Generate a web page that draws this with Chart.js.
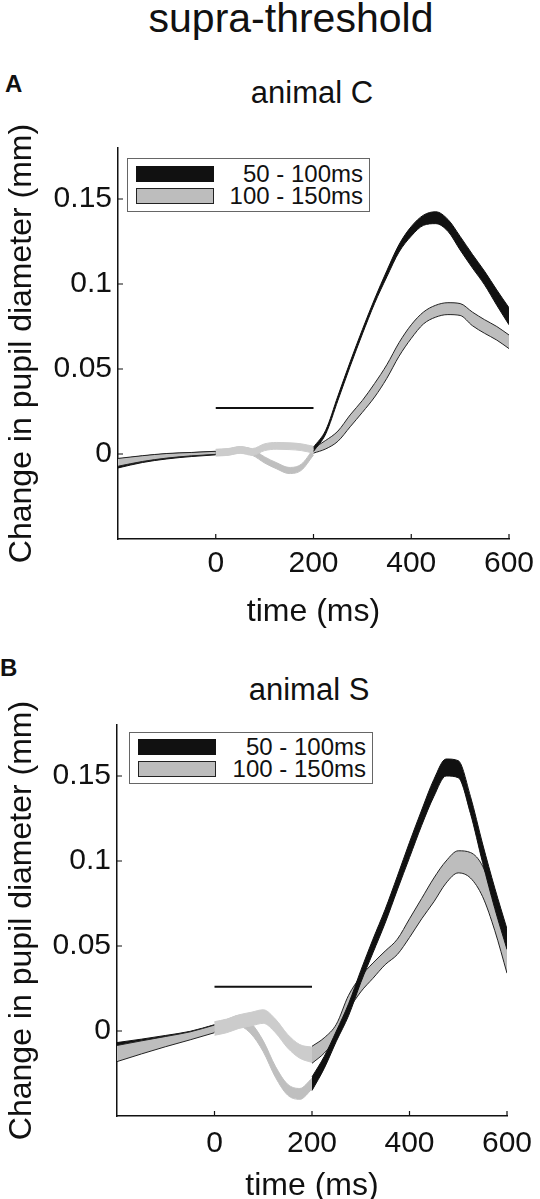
<!DOCTYPE html>
<html>
<head>
<meta charset="utf-8">
<script src="https://cdn.jsdelivr.net/npm/chart.js@4.4.1/dist/chart.umd.min.js"></script>
<style>
  html, body { margin: 0; padding: 0; background: #fff; }
  body { width: 540px; height: 1199px; position: relative; overflow: hidden;
         font-family: "Liberation Sans", Arial, sans-serif; color: #111; }
  .txt { position: absolute; white-space: nowrap; line-height: 1; }
  canvas { position: absolute; left: 0; }
  .legend { position: absolute; border: 1px solid #666; background: #fff; box-sizing: border-box; }
  .sw { position: absolute; box-sizing: border-box; left: 8px; width: 78px; height: 16px; }
  .lt { position: absolute; right: 6px; font-size: 24px; line-height: 1; white-space: nowrap; }
</style>
</head>
<body>
<div class="txt" style="font-size:41px; left:291px; top:-2px; transform:translateX(-50%);">supra-threshold</div>

<div class="txt" style="font-size:24px; font-weight:bold; left:5px; top:72px;">A</div>
<div class="txt" style="font-size:31px; left:312px; top:77px; transform:translateX(-50%);">animal C</div>
<canvas id="chartA" width="560" height="531" style="top:100px;"></canvas>
<div class="legend" style="left:127px; top:158px; width:243px; height:54px;">
  <div class="sw" style="top:7px; background:#111;"></div>
  <div class="sw" style="top:29px; background:#bdbdbd; border:1px solid #222;"></div>
  <div class="lt" style="top:3px;">50 - 100ms</div>
  <div class="lt" style="top:25px;">100 - 150ms</div>
</div>

<div class="txt" style="font-size:24px; font-weight:bold; left:0px; top:656px;">B</div>
<div class="txt" style="font-size:31px; left:309px; top:674px; transform:translateX(-50%);">animal S</div>
<canvas id="chartB" width="560" height="525" style="top:680px;"></canvas>
<div class="legend" style="left:129px; top:732px; width:244px; height:52px;">
  <div class="sw" style="top:6px; background:#111;"></div>
  <div class="sw" style="top:28px; background:#bdbdbd; border:1px solid #222;"></div>
  <div class="lt" style="top:2px;">50 - 100ms</div>
  <div class="lt" style="top:24px;">100 - 150ms</div>
</div>

<script>
// time bases (ms): before stimulation, during the 0-200 ms window, after
var tPre = [-200, -150, -100, -50, 0];
var tStim = [0, 25, 50, 75, 100, 125, 150, 175, 200];
var tPost = [200, 225, 250, 275, 300, 325, 350, 375, 400, 425, 450, 475, 500, 525, 550, 575, 600];

var xTicks = [0, 200, 400, 600];
var yTicks = [0, 0.05, 0.1, 0.15];
var barT = [0, 200];

// animal C  (upper / lower edge of each shaded band, mm)
var aBlackPreHi = [-0.0030, -0.0012, 0.0001, 0.0008, 0.0015];
var aBlackPreLo = [-0.0082, -0.0050, -0.0029, -0.0015, -0.0005];
var aGrayPreHi = [-0.0026, -0.0010, 0.0003, 0.0009, 0.0016];
var aGrayPreLo = [-0.0072, -0.0044, -0.0024, -0.0011, -0.0002];
var aBlackStimHi = [0.0026, 0.0030, 0.0042, 0.0028, -0.0017, -0.0052, -0.0079, -0.0060, 0.0030];
var aBlackStimLo = [-0.0010, -0.0006, 0.0006, -0.0008, -0.0053, -0.0088, -0.0115, -0.0096, -0.0006];
var aGrayStimHi = [0.0028, 0.0032, 0.0044, 0.0032, 0.0060, 0.0068, 0.0066, 0.0060, 0.0045];
var aGrayStimLo = [-0.0012, -0.0008, 0.0004, -0.0008, 0.0020, 0.0028, 0.0026, 0.0020, 0.0005];
var aBlackPostHi = [0.0040, 0.0140, 0.0342, 0.0542, 0.0732, 0.0912, 0.1078, 0.1232, 0.1338, 0.1405, 0.1425, 0.1380, 0.1280, 0.1175, 0.1075, 0.0965, 0.0860];
var aBlackPostLo = [0.0015, 0.0118, 0.0316, 0.0516, 0.0706, 0.0886, 0.1042, 0.1188, 0.1282, 0.1345, 0.1355, 0.1310, 0.1200, 0.1095, 0.0995, 0.0875, 0.0760];
var aGrayPostHi = [0.0035, 0.0080, 0.0135, 0.0230, 0.0315, 0.0415, 0.0525, 0.0655, 0.0760, 0.0835, 0.0875, 0.0890, 0.0885, 0.0835, 0.0790, 0.0750, 0.0700];
var aGrayPostLo = [0.0005, 0.0030, 0.0075, 0.0160, 0.0245, 0.0335, 0.0445, 0.0575, 0.0680, 0.0765, 0.0805, 0.0820, 0.0815, 0.0755, 0.0710, 0.0670, 0.0620];
var aBarY = 0.027;

// animal S
var bBlackPreHi = [-0.0068, -0.0048, -0.0026, -0.0002, 0.0037];
var bBlackPreLo = [-0.0130, -0.0100, -0.0068, -0.0036, -0.0005];
var bGrayPreHi = [-0.0085, -0.0058, -0.0032, -0.0005, 0.0035];
var bGrayPreLo = [-0.0180, -0.0135, -0.0092, -0.0052, -0.0010];
var bBlackStimHi = [0.0052, 0.0067, 0.0092, 0.0047, -0.0058, -0.0208, -0.0313, -0.0338, -0.0278];
var bBlackStimLo = [-0.0012, 0.0003, 0.0028, -0.0017, -0.0122, -0.0272, -0.0377, -0.0402, -0.0342];
var bGrayStimHi = [0.0055, 0.0070, 0.0095, 0.0110, 0.0125, 0.0070, -0.0020, -0.0080, -0.0095];
var bGrayStimLo = [-0.0025, -0.0010, 0.0015, 0.0030, 0.0045, -0.0010, -0.0100, -0.0160, -0.0185];
var bBlackPostHi = [-0.0270, -0.0150, 0.0000, 0.0160, 0.0355, 0.0540, 0.0715, 0.0910, 0.1110, 0.1300, 0.1480, 0.1600, 0.1590, 0.1380, 0.1100, 0.0840, 0.0600];
var bBlackPostLo = [-0.0350, -0.0220, -0.0060, 0.0090, 0.0285, 0.0460, 0.0635, 0.0830, 0.1020, 0.1210, 0.1380, 0.1500, 0.1490, 0.1280, 0.0990, 0.0720, 0.0480];
var bGrayPostHi = [-0.0090, -0.0040, 0.0040, 0.0210, 0.0320, 0.0400, 0.0470, 0.0540, 0.0660, 0.0780, 0.0900, 0.1000, 0.1060, 0.1050, 0.0970, 0.0770, 0.0520];
var bGrayPostLo = [-0.0190, -0.0130, -0.0040, 0.0120, 0.0230, 0.0310, 0.0390, 0.0450, 0.0550, 0.0660, 0.0760, 0.0870, 0.0930, 0.0900, 0.0790, 0.0590, 0.0340];
var bBarY = 0.026;

Chart.defaults.font.family = '"Liberation Sans", Arial, sans-serif';
Chart.defaults.color = '#111';

// tick marks pointing into the plot, like the original
var innerTicks = {
    id: 'innerTicks',
    afterDraw: function (chart) {
        var ctx = chart.ctx, area = chart.chartArea, sx = chart.scales.x, sy = chart.scales.y;
        ctx.save();
        ctx.strokeStyle = '#111';
        ctx.lineWidth = 1.2;
        ctx.beginPath();
        sx.ticks.forEach(function (t) {
            var px = sx.getPixelForValue(t.value);
            ctx.moveTo(px, area.bottom);
            ctx.lineTo(px, area.bottom - 5);
        });
        sy.ticks.forEach(function (t) {
            var py = sy.getPixelForValue(t.value);
            ctx.moveTo(area.left, py);
            ctx.lineTo(area.left + 5, py);
        });
        ctx.stroke();
        ctx.restore();
    }
};

function pts(xs, ys) {
    return xs.map(function (x, i) { return { x: x, y: ys[i] }; });
}

function band(xs, hi, lo, fillColor, edgeColor) {
    return [
        { data: pts(xs, hi), borderColor: edgeColor, borderWidth: 1, fill: false,
          pointRadius: 0, cubicInterpolationMode: 'monotone' },
        { data: pts(xs, lo), borderColor: edgeColor, borderWidth: 1, fill: '-1',
          backgroundColor: fillColor, pointRadius: 0, cubicInterpolationMode: 'monotone' }
    ];
}

function panel(id, d, geo) {
    // first dataset ends up on top
    var datasets = [
        { data: pts(barT, [d.bar, d.bar]), borderColor: '#111', borderWidth: 2, pointRadius: 0, fill: false }
    ]
        .concat(band(tPost, d.blackPostHi, d.blackPostLo, '#111', '#111'))
        .concat(band(tPost, d.grayPostHi, d.grayPostLo, '#bdbdbd', '#222'))
        .concat(band(tStim, d.grayStimHi, d.grayStimLo, '#cccccc', '#cccccc'))
        .concat(band(tStim, d.blackStimHi, d.blackStimLo, '#bfbfbf', '#bfbfbf'))
        .concat(band(tPre, d.grayPreHi, d.grayPreLo, '#bdbdbd', '#222'))
        .concat(band(tPre, d.blackPreHi, d.blackPreLo, '#111', '#111'));

    return new Chart(document.getElementById(id), {
        type: 'line',
        data: { datasets: datasets },
        options: {
            responsive: false,
            animation: false,
            layout: { padding: { top: geo.top, right: geo.right, bottom: 0, left: 0 } },
            plugins: { legend: { display: false }, tooltip: { enabled: false } },
            scales: {
                x: {
                    type: 'linear', min: -200, max: 600,
                    afterBuildTicks: function (s) { s.ticks = xTicks.map(function (v) { return { value: v }; }); },
                    afterFit: function (s) { s.height = geo.xh; },
                    grid: { display: false, drawTicks: false },
                    border: { display: true, color: '#111', width: 1.5 },
                    ticks: { padding: geo.xpad, maxRotation: 0, autoSkip: false, font: { size: 30 },
                             callback: function (v) { return String(v); } },
                    title: { display: true, text: 'time (ms)', font: { size: 32 }, padding: { top: 0, bottom: 0 } }
                },
                y: {
                    type: 'linear', min: -0.05, max: 0.18,
                    afterBuildTicks: function (s) { s.ticks = yTicks.map(function (v) { return { value: v }; }); },
                    afterFit: function (s) { s.width = geo.yw; },
                    grid: { display: false, drawTicks: false },
                    border: { display: true, color: '#111', width: 1.5 },
                    ticks: { padding: 6, font: { size: 30 }, callback: function (v) { return String(v); } },
                    title: { display: true, text: 'Change in pupil diameter (mm)', font: { size: 32 },
                             padding: { top: 3, bottom: 0 } }
                }
            }
        },
        plugins: [innerTicks]
    });
}

panel('chartA', {
    blackPreHi: aBlackPreHi, blackPreLo: aBlackPreLo, grayPreHi: aGrayPreHi, grayPreLo: aGrayPreLo,
    blackStimHi: aBlackStimHi, blackStimLo: aBlackStimLo, grayStimHi: aGrayStimHi, grayStimLo: aGrayStimLo,
    blackPostHi: aBlackPostHi, blackPostLo: aBlackPostLo, grayPostHi: aGrayPostHi, grayPostLo: aGrayPostLo,
    bar: aBarY
}, { top: 48, right: 51, yw: 118, xh: 92, xpad: 7 });

panel('chartB', {
    blackPreHi: bBlackPreHi, blackPreLo: bBlackPreLo, grayPreHi: bGrayPreHi, grayPreLo: bGrayPreLo,
    blackStimHi: bBlackStimHi, blackStimLo: bBlackStimLo, grayStimHi: bGrayStimHi, grayStimLo: bGrayStimLo,
    blackPostHi: bBlackPostHi, blackPostLo: bBlackPostLo, grayPostHi: bGrayPostHi, grayPostLo: bGrayPostLo,
    bar: bBarY
}, { top: 45, right: 53, yw: 117, xh: 89, xpad: 10 });
</script>
</body>
</html>
